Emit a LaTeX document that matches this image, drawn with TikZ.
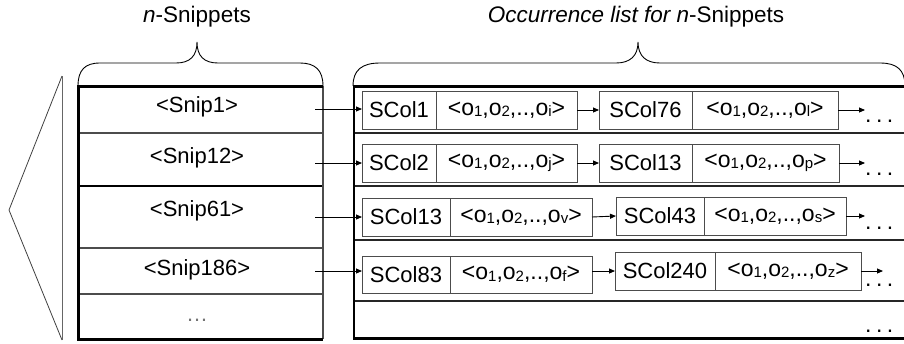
\documentclass[tikz,border=0pt]{standalone}
\usepackage{fontspec}
\setmainfont{Liberation Sans}
\usetikzlibrary{arrows.meta}
% occurrence o with a small index, and a whole occurrence list
\newcommand\osub[1]{o\raisebox{-1.5pt}{\fontsize{15}{15}\selectfont #1}}
\newcommand\olist[1]{<\osub{1},\osub{2},..,\osub{#1}>}
\newcommand\moredots{.\kern4.5pt.\kern4.5pt.}
\begin{document}
\begin{tikzpicture}[x=1pt,y=-1pt,
  rule/.style={line width=3pt,draw=black},
  sep/.style={line width=1.1pt,draw=black!70},
  key/.style={draw=black!70,line width=1pt,fill=white,inner sep=0pt,outer sep=0pt,
    minimum height=38pt,anchor=north west,font=\fontsize{22}{26}\selectfont},
  lst/.style={key,font=\fontsize{23}{27}\selectfont},
  arr/.style={-{Triangle[length=6pt,width=5pt]},line width=0.9pt},
  snip/.style={anchor=base,font=\fontsize{22}{26}\selectfont},
  title/.style={anchor=base,font=\fontsize{22.5}{27}\selectfont},
  dots/.style={anchor=base west,inner sep=0pt,font=\fontsize{23}{27}\selectfont}]
\useasboundingbox (0,0) rectangle (904,343);

% titles and braces
\node[title] (t1) at (197,22) {\textit{n}-Snippets};
\node[title] (t2) at (636,22) {\textit{Occurrence list for n}-Snippets};
\draw[line width=0.9pt] (78,86) .. controls (78,70) and (85,63) .. (100,63) -- (176,63)
  .. controls (190,63) and (197,56) .. (197,42)
  .. controls (197,56) and (204,63) .. (218,63) -- (300,63)
  .. controls (315,63) and (323,70) .. (323,86);
\draw[line width=0.9pt] (353,86) .. controls (353,70) and (362,63) .. (380,63) -- (616,63)
  .. controls (630,63) and (638,56) .. (638,42)
  .. controls (638,56) and (646,63) .. (660,63) -- (880,63)
  .. controls (897,63) and (905,70) .. (905,86);

% wedge on the left
\draw[line width=0.8pt,black!75] (62,76) -- (9,210) -- (62,340);
\draw[line width=0.8pt,black!60] (62,76) -- (62,340);

% snippet table
\foreach \y in {133,248,294} \draw[sep] (78,\y) -- (323,\y);
\draw[line width=1.1pt,black] (78,186) -- (323,186);
\draw[sep] (323,86) -- (323,339);
\draw[rule] (323,86) -- (78,86) -- (78,339) -- (323,339);
\node[snip] (s1) at (197,112) {<Snip1>};
\node[snip] (s2) at (197,163) {<Snip12>};
\node[snip] (s3) at (197,216) {<Snip61>};
\node[snip] (s4) at (197,275) {<Snip186>};
\node[snip,black!55] (s5) at (197,321) {…};

% occurrence table
\foreach \y in {133,186,240,301} \draw[line width=1.3pt,black!85] (354,\y) -- (904,\y);
\draw[line width=1.1pt] (354,86) -- (354,338);
\draw[rule] (353,86) -- (904,86);
\draw[rule] (353,338) -- (904,338);

% row 1
\node[key,minimum width=74pt] (k11) at (362,91) {SCol1};
\node[lst,minimum width=141pt] (l11) at (k11.north east) {\olist{i}};
\node[key,minimum width=93pt] (k12) at (599,91) {SCol76};
\node[lst,minimum width=146pt] (l12) at (k12.north east) {\olist{l}};
% row 2
\node[key,minimum width=74pt] (k21) at (362,144) {SCol2};
\node[lst,minimum width=141pt] (l21) at (k21.north east) {\olist{j}};
\node[key,minimum width=93pt] (k22) at (599,144) {SCol13};
\node[lst,minimum width=147pt] (l22) at (k22.north east) {\olist{p}};
% row 3
\node[key,minimum width=88pt] (k31) at (362,198) {SCol13};
\node[lst,minimum width=142pt] (l31) at (k31.north east) {\olist{v}};
\node[key,minimum width=88pt] (k32) at (616,197) {SCol43};
\node[lst,minimum width=142pt] (l32) at (k32.north east) {\olist{s}};
% row 4
\node[key,minimum width=88pt,minimum height=37pt] (k41) at (362,256) {SCol83};
\node[lst,minimum width=142pt,minimum height=37pt] (l41) at (k41.north east) {\olist{f}};
\node[key,minimum width=100pt] (k42) at (615,252) {SCol240};
\node[lst,minimum width=146pt] (l42) at (k42.north east) {\olist{z}};

% continuation dots
\node[dots] (d1) at (865,122) {\moredots};
\node[dots] (d2) at (865,175) {\moredots};
\node[dots] (d3) at (865,229) {\moredots};
\node[dots] (d4) at (865,286) {\moredots};
\node[dots] (d5) at (865,332) {\moredots};

% pointers from the snippets into their lists
\coordinate (p1) at (315,109);
\coordinate (p2) at (315,163);
\coordinate (p3) at (315,217);
\coordinate (p4) at (315,271);
\draw[arr] (p1) -- (p1 -| k11.west);
\draw[arr] (p2) -- (p2 -| k21.west);
\draw[arr] (p3) -- (p3 -| k31.west);
\draw[arr] (p4) -- (p4 -| k41.west);

% links along each list
\draw[arr] (l11.east) -- (k12.west);
\draw[arr] (l21.east) -- (k22.west);
\draw[arr] (l31.east) -- (k32.west);
\draw[arr] (k42.west -| l41.east) -- (k42.west);
\draw[arr] (l12.east) -- (l12.east -| d1.west);
\draw[arr] (l22.east) -- (l22.east -| d2.west);
\draw[arr] (l32.east) -- (l32.east -| d3.west);
\coordinate (q4) at (883,271);
\draw[arr] (l42.east) -- (q4);
\end{tikzpicture}
\end{document}
